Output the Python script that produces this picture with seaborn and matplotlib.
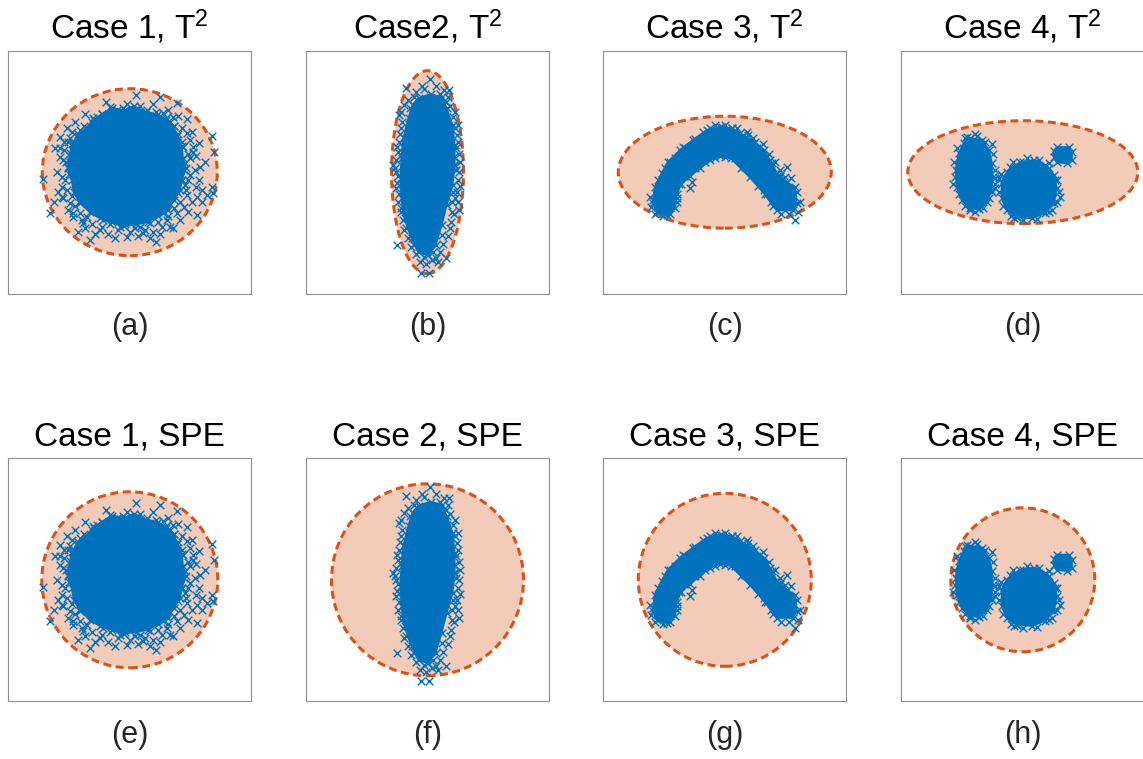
import numpy as np
import pandas as pd
import matplotlib
matplotlib.use("Agg")
import matplotlib.pyplot as plt
import seaborn as sns
from matplotlib.patches import Ellipse

sns.set_style("white")
plt.rcParams["font.family"] = ["Liberation Sans", "DejaVu Sans"]
plt.rcParams["mathtext.fontset"] = "custom"
plt.rcParams["mathtext.rm"] = "Liberation Sans"
plt.rcParams["mathtext.it"] = "Liberation Sans:italic"
plt.rcParams["mathtext.bf"] = "Liberation Sans:bold"

# ---------------- data (arbitrary units, box = +-121.5) ----
titles_t2 = ["Case 1, T$^2$", "Case2, T$^2$", "Case 3, T$^2$", "Case 4, T$^2$"]
titles_spe = ["Case 1, SPE", "Case 2, SPE", "Case 3, SPE", "Case 4, SPE"]
labels_t2 = ["(a)", "(b)", "(c)", "(d)"]
labels_spe = ["(e)", "(f)", "(g)", "(h)"]

# T^2 control ellipse (width, height) and SPE control circle diameter
t2_width = [175, 72, 213, 230]
t2_height = [167, 203, 112, 103]
spe_diameter = [176, 192, 173, 144]

# outlines of the densely packed cores
case1_core = [(-18, 64), (-5, 62), (4, 66), (16, 60), (28, 58), (36, 52), (44, 46), (47, 36),
              (52, 26), (53, 14), (56, 4), (52, -8), (50, -18), (44, -28), (38, -38), (28, -44),
              (18, -50), (6, -52), (-6, -54), (-18, -50), (-30, -46), (-40, -40), (-50, -30),
              (-56, -20), (-58, -8), (-62, 4), (-60, 16), (-58, 28), (-52, 36), (-44, 44),
              (-36, 52), (-28, 58)]
case2_core = [(-9, 74), (3, 78), (14, 75), (19, 64), (25, 47), (27, 27), (27, 7), (25, -13),
              (19, -33), (14, -53), (8, -73), (0, -83), (-9, -80), (-16, -66), (-23, -46),
              (-26, -26), (-27, -6), (-26, 14), (-24, 34), (-19, 54), (-15, 67)]
case3_core = [(-72, -31), (-70, -15), (-63, -1), (-57, 10), (-45, 22), (-32, 32), (-18, 42),
              (-5, 45), (7, 44), (18, 37), (30, 30), (39, 22), (45, 12), (52, -1), (62, -10),
              (70, -15), (72, -31), (68, -38), (52, -38), (46, -30), (40, -22), (33, -14),
              (25, -5), (16, 4), (6, 14), (-5, 16), (-15, 12), (-25, 4), (-35, -4), (-44, -12),
              (-48, -22), (-50, -36), (-58, -43), (-68, -40)]
case4_core_left = [(-53, 34), (-41, 32), (-34, 22), (-31, 9), (-30, -5), (-32, -18), (-36, -30),
                   (-44, -37), (-53, -36), (-61, -28), (-66, -15), (-67, 2), (-64, 19), (-59, 29)]
case4_core_mid = [(-3, 10), (11, 12), (22, 7), (31, -3), (34, -16), (31, -31), (22, -41), (9, -46),
                  (-6, -45), (-16, -38), (-21, -26), (-21, -11), (-16, 0)]
case4_core_small = [(34, 25), (46, 25), (49, 20), (49, 12), (44, 9), (34, 10), (31, 15), (31, 21)]

# individually visible samples around the cores
case1_points = [(6, 77), (-24, 70), (30, 75), (47, 69), (-3, 68), (10, 66), (23, 68), (57, 53),
                (82, 36), (84, 20), (69, 29), (65, 2), (69, -8), (82, -15), (83, -21), (72, -18),
                (67, -25), (54, -35), (67, -43), (55, -13), (60, 14), (63, 25), (57, 39), (40, 50),
                (-75, 24), (-70, 24), (-73, 0), (-87, -7), (-68, -15), (-67, -26), (-80, -41),
                (-60, 34), (-63, 44), (-37, 54), (-40, -68), (-47, -51), (-28, -55), (-15, -66),
                (-3, -65), (26, -70), (13, -61), (37, -48), (47, -41), (-57, -41), (-62, 5),
                (-60, -31), (-50, -41), (-13, 62), (52, 44), (57, -23), (60, -3), (43, -56),
                (-33, 42), (-67, 12), (77, -23), (-50, 42), (-57, 29), (-60, 19), (-50, -31),
                (-43, -45), (-27, -48), (10, -55), (20, -51), (33, -41), (50, 9), (53, 25),
                (52, -8), (48, -21), (-33, 55), (-20, 65), (-7, 64), (17, 62), (33, 59), (43, 55),
                (-68, -5), (-65, -8), (-72, -20), (-57, -45), (-10, -55), (0, -60), (23, -60),
                (32, -55), (58, -40), (63, 20), (47, 32), (55, 9),
                (-62, 30), (-66, 22), (-64, 10), (-61, -2), (-63, -18), (-58, -24), (-55, -34),
                (-48, -48), (-38, -52), (-30, -58), (-20, -52), (-12, -58), (-5, -52), (5, -56),
                (15, -58), (28, -50), (38, -44), (44, -36), (50, -30), (56, -18), (58, -8),
                (54, 2), (58, 18), (52, 30), (48, 38), (44, 46), (36, 54), (26, 60), (16, 57),
                (5, 62), (-5, 58), (-18, 60), (-28, 58), (-38, 50), (-46, 46), (-52, 38),
                (-58, 40), (-66, 30), (-70, 15), (-68, -25), (-62, -38), (-45, -56), (-35, -62),
                (-22, -62), (8, -64), (20, -66), (40, -55), (50, -48), (62, -30), (66, -15),
                (70, 5), (66, 16), (60, 32), (48, 56), (38, 62), (-45, 58), (-55, 50), (-70, 35),
                (-76, -30), (-52, -60), (30, -62), (62, 40), (75, 10), (72, -30)]
case2_points = [(2, 93), (-22, 84), (-4, 83), (16, 82), (21, 82), (-29, 57), (30, 47), (-31, 25),
                (-35, 7), (-32, 0), (-31, -11), (31, 0), (29, -20), (31, -38), (24, -30), (-31, -73),
                (-22, -56), (-27, -36), (-4, -85), (8, -86), (18, -86), (-7, -101), (1, -101),
                (14, -63), (23, -50), (28, 24), (29, 37), (-27, 44), (-26, -26), (-14, -73),
                (5, -80), (20, 75), (-14, 75), (-24, 67), (26, 7), (-27, 17),
                (-27, 60), (-26, 50), (-28, 38), (-29, 30), (-30, 20), (-32, 12), (-33, 4),
                (-30, -4), (-32, -16), (-29, -22), (-30, -30), (-27, -40), (-25, -48), (-24, -58),
                (-20, -66), (-17, -75), (-12, -82), (27, 60), (25, 55), (27, 44), (30, 30),
                (31, 18), (32, 10), (28, 2), (30, -8), (32, -14), (27, -26), (30, -30), (26, -42),
                (22, -56), (20, -64), (15, -72), (12, -80), (10, -90), (-8, -90), (-2, -92),
                (4, -88), (-12, 80), (-6, 86), (8, 86), (12, 78), (18, 70), (-20, 72), (-18, 64),
                (22, 66), (-25, 25), (26, 15), (-26, -12), (25, -20), (24, -40)]
case3_points = [(-42, 25), (-15, 44), (-3, 45), (7, 44), (23, 37), (-33, -10), (39, -18), (35, -1),
                (70, -48), (62, 5), (60, -5), (-65, -38), (-52, 4), (-55, 10), (-61, -5), (-28, 25),
                (-41, 15), (15, 39), (32, 24), (47, 9), (55, 2), (-58, -35), (-72, -28), (-35, -16),
                (-75, -25), (-74, -35), (-70, -42), (-62, -44), (-55, -42), (-48, -30), (-67, -8),
                (-60, 4), (-50, 14), (-40, 24), (-30, 33), (-22, 40), (-10, 47), (0, 47), (12, 44),
                (22, 40), (28, 34), (38, 28), (44, 18), (50, 10), (56, -2), (66, -6), (72, -20),
                (75, -30), (73, -40), (64, -42), (56, -42), (48, -34), (42, -22), (30, -2),
                (20, 5), (10, 14), (0, 15), (-10, 14), (-20, 10), (-30, 4), (-40, -4), (-46, -12),
                (-48, -26), (-62, -18), (-8, 38), (14, 30), (-36, 18), (34, 16), (58, -22),
                (-58, -28)]
case4_points = [(-56, 35), (-46, 36), (-31, 28), (-28, -6), (-24, -6), (-28, -16), (-31, -20),
                (-53, -38), (-49, -33), (-64, -10), (-66, 7), (-19, -8), (-6, -45), (-9, -46),
                (26, 9), (32, -8), (37, -25), (29, -38), (0, 10), (12, 10), (-13, 5),
                (-68, -5), (-69, 10), (-66, 24), (-58, 34), (-48, 38), (-38, 30), (-30, 18),
                (-28, 2), (-28, -12), (-34, -26), (-40, -36), (-48, -40), (-58, -34), (-64, -22),
                (-70, -12), (-22, -2), (-10, 10), (4, 14), (16, 12), (26, 4), (34, -8), (36, -20),
                (34, -30), (26, -40), (14, -47), (0, -48), (-12, -44), (-20, -34), (-24, -20)]

cores = [[case1_core], [case2_core], [case3_core],
         [case4_core_left, case4_core_mid, case4_core_small]]
samples = [case1_points, case2_points, case3_points, case4_points]

# ---------------- drawing ----------------
BLUE = "#0072BD"
ORANGE = "#D95319"
fig = plt.figure(figsize=(11.43, 7.59), dpi=100)

W, H = 1143.0, 759.0
col_left = [8.3, 306.0, 603.3, 901.3]
row_top = [50.7, 458.3]
box = 243.0
lim = box / 2


def draw_panel(ax, case, ew, eh, title, label):
    ax.add_patch(Ellipse((0, 0), ew, eh, facecolor=ORANGE, alpha=0.3, edgecolor="none", zorder=1))
    ax.add_patch(Ellipse((0, 0), ew, eh, facecolor="none", edgecolor=ORANGE, lw=2.2,
                         linestyle=(0, (2.6, 1.5)), zorder=2))
    for poly in cores[case]:
        arr = np.array(poly, dtype=float)
        ax.fill(arr[:, 0], arr[:, 1], color=BLUE, lw=1.5, zorder=3)
    pts = np.array(samples[case] + [p for poly in cores[case] for p in poly], dtype=float)
    df = pd.DataFrame({"x": pts[:, 0], "y": pts[:, 1]})
    sns.scatterplot(data=df, x="x", y="y", ax=ax, marker="x", color=BLUE, s=30,
                    linewidth=1.0, zorder=4, legend=False)
    ax.set_xlim(-lim, lim)
    ax.set_ylim(-lim, lim)
    ax.set_xticks([])
    ax.set_yticks([])
    ax.set_xlabel("")
    ax.set_ylabel("")
    for s in ax.spines.values():
        s.set_color("#8f8f8f")
        s.set_linewidth(0.8)
    ax.set_title(title, fontsize=24, pad=9, color="black")
    ax.text(0.5, -33.5 / box, label, transform=ax.transAxes, ha="center", va="center",
            fontsize=22, color="#262626")


for i in range(4):
    for r in range(2):
        left = col_left[i] / W
        bottom = 1 - (row_top[r] + box) / H
        ax = fig.add_axes([left, bottom, box / W, box / H])
        if r == 0:
            draw_panel(ax, i, t2_width[i], t2_height[i], titles_t2[i], labels_t2[i])
        else:
            draw_panel(ax, i, spe_diameter[i], spe_diameter[i], titles_spe[i], labels_spe[i])

fig.savefig("out.png", dpi=100)
